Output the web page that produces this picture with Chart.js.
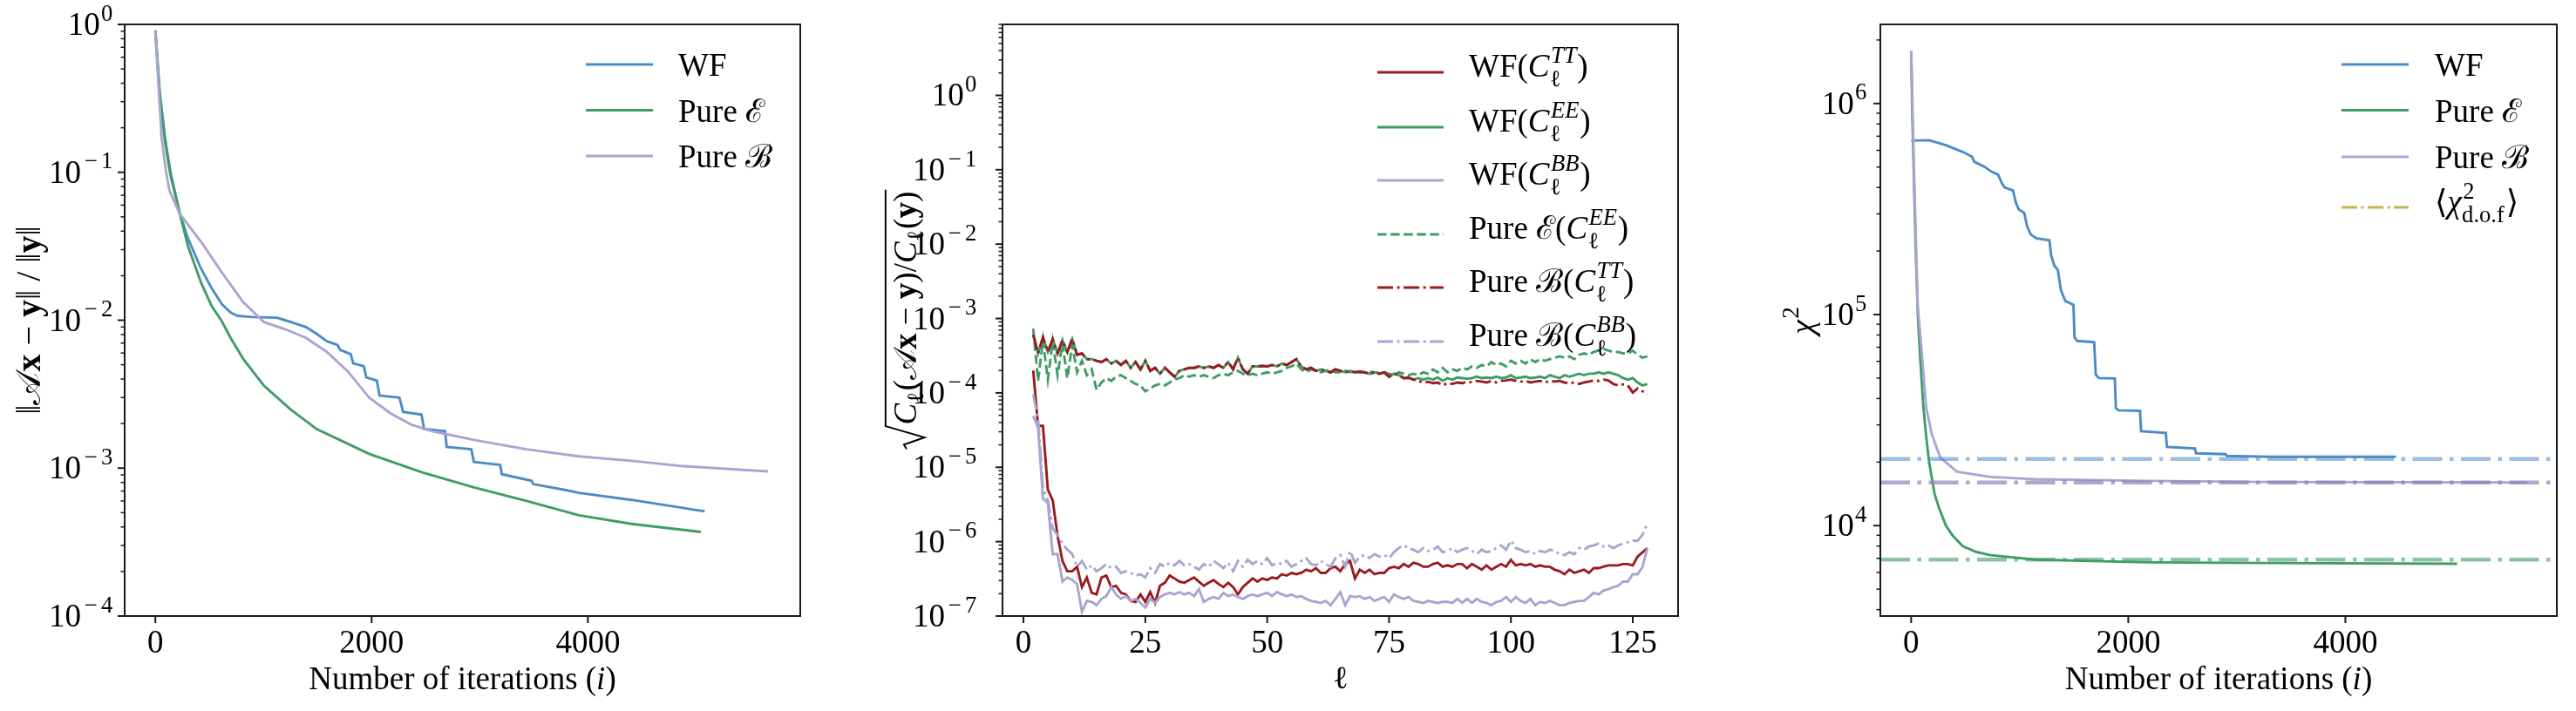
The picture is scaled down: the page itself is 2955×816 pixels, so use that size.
<!DOCTYPE html>
<html>
<head>
<meta charset="utf-8">
<script src="https://cdn.jsdelivr.net/npm/chart.js@4.4.1/dist/chart.umd.min.js"></script>
<style>
  html, body { margin: 0; padding: 0; background: #fff; }
  #quadro { position: relative; width: 2955px; height: 816px; overflow: hidden; }
  canvas { position: absolute; top: 0; }
</style>
</head>
<body>
<div id="quadro">
  <canvas id="c1" width="990" height="816" style="left:0px"></canvas>
  <canvas id="c2" width="1010" height="816" style="left:990px"></canvas>
  <canvas id="c3" width="955" height="816" style="left:2000px"></canvas>
</div>
<script>
// ---------- Painel 1: resíduo relativo vs. iterações ----------
const it1WF = [0, 40, 90, 140, 228, 300, 420, 520, 616, 700, 762, 900, 1126, 1200, 1296, 1393, 1490, 1587, 1684, 1709,
  1806, 1830, 1927, 1951, 2048, 2073, 2257, 2291, 2461, 2485, 2679, 2694, 2922, 2946, 3189, 3204, 3480, 3495, 3796, 3917, 4403, 5080];
const res1WF = [0.91, 0.35, 0.17, 0.10, 0.052, 0.036, 0.0225, 0.0165, 0.0128, 0.0112, 0.0107, 0.0105, 0.0104, 0.0100, 0.0095, 0.0090, 0.0081, 0.0072, 0.0068, 0.0063,
  0.0059, 0.0051, 0.0049, 0.0041, 0.0039, 0.0031, 0.0030, 0.0024, 0.0023, 0.00184, 0.00178, 0.00139, 0.00134, 0.0011, 0.00105, 0.00091, 0.00082, 0.00078, 0.00071, 0.00068, 0.00061, 0.00051];
const it1E = [0, 40, 90, 140, 228, 300, 422, 520, 616, 700, 811, 1005, 1248, 1490, 1976, 2461, 2946, 3432, 3917, 4403, 5045];
const res1E = [0.91, 0.33, 0.16, 0.095, 0.052, 0.032, 0.018, 0.0125, 0.0098, 0.0075, 0.0055, 0.0036, 0.0025, 0.00184, 0.00125, 0.00094, 0.00074, 0.00060, 0.00048, 0.00042, 0.00037];
const it1B = [0, 58, 100, 131, 228, 422, 616, 811, 1005, 1199, 1393, 1587, 1781, 1976, 2170, 2364, 2558, 2946, 3432, 3917, 4403, 4888, 5665];
const res1B = [0.91, 0.17, 0.10, 0.075, 0.052, 0.034, 0.021, 0.0133, 0.0097, 0.0087, 0.0076, 0.0061, 0.0045, 0.0030, 0.00236, 0.00197, 0.00178, 0.00155, 0.00134, 0.0012, 0.00112, 0.00103, 0.00095];
const limX1 = [-284, 5964];
const limY1 = [1e-4, 1];
const ticksX1 = [0, 2000, 4000];
const expY1 = [0, -1, -2, -3, -4];

// ---------- Painel 2: espectro do resíduo por multipolo ----------
const ell = Array.from({ length: 127 }, (_, i) => i + 2);
const wfTT = [
  2.0e-4, 3.6e-5, 3.6e-5, 5.0e-6, 3.6e-6, 1.2e-6, 5.5e-7, 4.0e-7, 4.0e-7, 4.6e-7,
  2.45e-7, 3.3e-7, 2.05e-7, 1.95e-7, 3.3e-7, 3.5e-7, 2.45e-7, 2.55e-7, 2.05e-7, 1.95e-7,
  1.6e-7, 1.55e-7, 1.95e-7, 1.55e-7, 2.1e-7, 1.5e-7, 2.55e-7, 2.8e-7, 3.5e-7, 3.2e-7,
  2.9e-7, 2.8e-7, 3.05e-7, 3.3e-7, 2.9e-7, 2.55e-7, 2.8e-7, 3.05e-7, 2.7e-7, 2.45e-7,
  2.8e-7, 2.45e-7, 1.95e-7, 2.45e-7, 2.8e-7, 3.2e-7, 2.9e-7, 3.2e-7, 3.05e-7, 3.3e-7,
  3.2e-7, 3.65e-7, 3.5e-7, 3.8e-7, 3.65e-7, 3.8e-7, 4.2e-7, 4.0e-7, 4.4e-7, 3.8e-7,
  3.8e-7, 4.4e-7, 4.6e-7, 4.0e-7, 5.0e-7, 5.5e-7, 3.2e-7, 4.2e-7, 3.8e-7, 4.2e-7,
  3.65e-7, 3.8e-7, 3.8e-7, 4.4e-7, 4.6e-7, 4.4e-7, 5.0e-7, 4.6e-7, 5.2e-7, 5.0e-7,
  4.6e-7, 4.6e-7, 5.0e-7, 5.2e-7, 4.6e-7, 4.8e-7, 4.6e-7, 5.0e-7, 5.0e-7, 4.4e-7,
  5.0e-7, 4.6e-7, 4.2e-7, 4.8e-7, 4.2e-7, 4.6e-7, 5.0e-7, 4.6e-7, 5.7e-7, 4.8e-7,
  5.0e-7, 4.8e-7, 5.0e-7, 4.6e-7, 4.8e-7, 4.6e-7, 4.6e-7, 4.2e-7, 4.0e-7, 3.65e-7,
  4.2e-7, 3.8e-7, 4.0e-7, 4.2e-7, 3.8e-7, 4.4e-7, 4.4e-7, 4.6e-7, 4.8e-7, 4.8e-7,
  4.8e-7, 5.0e-7, 5.0e-7, 4.8e-7, 6.3e-7, 7.2e-7, 8.2e-7];
const wfEE = [
  6.1e-4, 3.4e-4, 5.6e-4, 3.55e-4, 5.3e-4, 3.4e-4, 5.1e-4, 3.55e-4, 5.3e-4, 3.25e-4,
  3.4e-4, 2.84e-4, 2.84e-4, 2.7e-4, 2.6e-4, 2.84e-4, 2.48e-4, 2.7e-4, 2.37e-4, 2.7e-4,
  2.17e-4, 2.6e-4, 2.07e-4, 2.7e-4, 1.98e-4, 2.17e-4, 1.81e-4, 2.17e-4, 1.89e-4, 1.65e-4,
  1.98e-4, 2.07e-4, 2.17e-4, 2.17e-4, 2.27e-4, 2.17e-4, 2.27e-4, 2.17e-4, 2.37e-4, 2.17e-4,
  2.6e-4, 2.07e-4, 2.97e-4, 2.07e-4, 1.81e-4, 2.27e-4, 2.27e-4, 2.3e-4, 2.27e-4, 2.37e-4,
  2.27e-4, 2.48e-4, 2.37e-4, 2.6e-4, 2.84e-4, 2.27e-4, 2.07e-4, 2.17e-4, 1.98e-4, 2.07e-4,
  1.98e-4, 1.89e-4, 2.07e-4, 1.98e-4, 1.89e-4, 1.98e-4, 1.89e-4, 1.93e-4, 1.89e-4, 1.81e-4,
  1.89e-4, 1.81e-4, 1.89e-4, 1.65e-4, 1.81e-4, 1.73e-4, 1.58e-4, 1.6e-4, 1.51e-4, 1.58e-4,
  1.51e-4, 1.58e-4, 1.51e-4, 1.61e-4, 1.45e-4, 1.58e-4, 1.51e-4, 1.61e-4, 1.58e-4, 1.55e-4,
  1.58e-4, 1.65e-4, 1.58e-4, 1.61e-4, 1.58e-4, 1.65e-4, 1.58e-4, 1.61e-4, 1.73e-4, 1.58e-4,
  1.61e-4, 1.65e-4, 1.58e-4, 1.61e-4, 1.65e-4, 1.58e-4, 1.73e-4, 1.65e-4, 1.58e-4, 1.73e-4,
  1.65e-4, 1.73e-4, 1.81e-4, 1.73e-4, 1.81e-4, 1.81e-4, 1.89e-4, 1.81e-4, 1.89e-4, 1.81e-4,
  1.73e-4, 1.58e-4, 1.51e-4, 1.58e-4, 1.38e-4, 1.26e-4, 1.32e-4];
const wfBB = [
  4.9e-5, 3.4e-5, 3.8e-6, 3.3e-6, 6.8e-7, 6.8e-7, 2.9e-7, 3.3e-7, 3.05e-7, 2.7e-7,
  1.14e-7, 1.6e-7, 1.55e-7, 1.4e-7, 1.7e-7, 1.85e-7, 2.45e-7, 1.95e-7, 1.7e-7, 1.85e-7,
  1.6e-7, 1.7e-7, 1.5e-7, 1.3e-7, 1.7e-7, 1.5e-7, 1.8e-7, 1.95e-7, 2.05e-7, 1.95e-7,
  2.1e-7, 1.95e-7, 2.05e-7, 1.85e-7, 2.3e-7, 1.55e-7, 1.7e-7, 1.8e-7, 1.7e-7, 2.05e-7,
  1.85e-7, 1.95e-7, 1.8e-7, 1.7e-7, 1.85e-7, 1.95e-7, 1.85e-7, 1.95e-7, 2.05e-7, 1.85e-7,
  2.1e-7, 1.95e-7, 1.85e-7, 1.95e-7, 1.8e-7, 1.85e-7, 1.7e-7, 1.6e-7, 1.55e-7, 1.5e-7,
  1.6e-7, 1.4e-7, 1.7e-7, 2.1e-7, 1.4e-7, 1.85e-7, 1.8e-7, 1.85e-7, 1.7e-7, 1.8e-7,
  1.6e-7, 1.7e-7, 1.8e-7, 1.55e-7, 1.95e-7, 1.8e-7, 1.7e-7, 1.8e-7, 1.6e-7, 1.55e-7,
  1.5e-7, 1.6e-7, 1.55e-7, 1.5e-7, 1.55e-7, 1.55e-7, 1.5e-7, 1.7e-7, 1.5e-7, 1.7e-7,
  1.5e-7, 1.7e-7, 1.55e-7, 1.5e-7, 1.4e-7, 1.55e-7, 1.6e-7, 1.8e-7, 1.55e-7, 1.8e-7,
  1.6e-7, 1.5e-7, 1.7e-7, 1.4e-7, 1.55e-7, 1.5e-7, 1.6e-7, 1.5e-7, 1.4e-7, 1.4e-7,
  1.5e-7, 1.55e-7, 1.6e-7, 1.6e-7, 1.8e-7, 2.05e-7, 1.95e-7, 2.2e-7, 2.3e-7, 2.45e-7,
  2.55e-7, 2.9e-7, 2.9e-7, 3.65e-7, 3.65e-7, 4.6e-7, 8.2e-7];
const pureE_EE = [
  7.3e-4, 1.45e-4, 5.1e-4, 1.51e-4, 4.9e-4, 1.73e-4, 4.65e-4, 1.58e-4, 4.45e-4, 1.89e-4,
  2.7e-4, 1.73e-4, 2.07e-4, 1.1e-4, 1.38e-4, 1.58e-4, 1.45e-4, 1.65e-4, 1.73e-4, 1.58e-4,
  1.45e-4, 1.32e-4, 1.26e-4, 1.05e-4, 1.15e-4, 1.26e-4, 1.32e-4, 1.26e-4, 1.38e-4, 1.51e-4,
  1.58e-4, 1.73e-4, 1.65e-4, 1.73e-4, 1.65e-4, 1.73e-4, 1.65e-4, 1.58e-4, 1.73e-4, 1.81e-4,
  1.73e-4, 1.89e-4, 1.98e-4, 1.81e-4, 1.73e-4, 1.81e-4, 1.73e-4, 1.81e-4, 1.89e-4, 1.81e-4,
  1.89e-4, 1.98e-4, 2.17e-4, 2.27e-4, 2.48e-4, 2.07e-4, 1.89e-4, 2.07e-4, 1.98e-4, 1.89e-4,
  1.98e-4, 2.07e-4, 1.89e-4, 1.89e-4, 1.98e-4, 1.89e-4, 1.98e-4, 1.89e-4, 1.89e-4, 1.93e-4,
  1.89e-4, 1.86e-4, 1.89e-4, 1.81e-4, 1.73e-4, 1.89e-4, 1.81e-4, 1.73e-4, 1.81e-4, 1.73e-4,
  1.89e-4, 1.81e-4, 2.07e-4, 1.89e-4, 2.17e-4, 1.89e-4, 2.07e-4, 1.98e-4, 2.17e-4, 2.07e-4,
  2.27e-4, 2.17e-4, 2.37e-4, 2.27e-4, 2.6e-4, 2.37e-4, 2.48e-4, 2.27e-4, 2.7e-4, 2.48e-4,
  2.7e-4, 2.48e-4, 2.84e-4, 2.6e-4, 2.84e-4, 2.7e-4, 2.84e-4, 2.97e-4, 3.1e-4, 2.97e-4,
  3.1e-4, 2.84e-4, 3.25e-4, 3.4e-4, 3.25e-4, 3.55e-4, 3.7e-4, 3.9e-4, 3.7e-4, 3.55e-4,
  3.55e-4, 3.4e-4, 3.4e-4, 3.7e-4, 3.25e-4, 2.97e-4, 3.1e-4];
const pureB_TT = [
  6.1e-4, 3.4e-4, 5.6e-4, 3.55e-4, 5.3e-4, 3.4e-4, 5.1e-4, 3.55e-4, 5.3e-4, 3.25e-4,
  3.4e-4, 2.84e-4, 2.84e-4, 2.7e-4, 2.6e-4, 2.84e-4, 2.48e-4, 2.7e-4, 2.37e-4, 2.7e-4,
  2.17e-4, 2.6e-4, 2.07e-4, 2.7e-4, 1.98e-4, 2.17e-4, 1.81e-4, 2.17e-4, 1.89e-4, 1.65e-4,
  1.98e-4, 2.07e-4, 2.17e-4, 2.17e-4, 2.27e-4, 2.17e-4, 2.27e-4, 2.17e-4, 2.37e-4, 2.17e-4,
  2.6e-4, 2.07e-4, 2.97e-4, 2.07e-4, 1.81e-4, 2.27e-4, 2.27e-4, 2.3e-4, 2.27e-4, 2.37e-4,
  2.27e-4, 2.48e-4, 2.37e-4, 2.6e-4, 2.84e-4, 2.27e-4, 2.07e-4, 2.17e-4, 1.98e-4, 2.07e-4,
  1.98e-4, 1.89e-4, 2.07e-4, 1.98e-4, 1.89e-4, 1.98e-4, 1.89e-4, 1.93e-4, 1.89e-4, 1.81e-4,
  1.89e-4, 1.81e-4, 1.89e-4, 1.65e-4, 1.81e-4, 1.73e-4, 1.58e-4, 1.6e-4, 1.51e-4, 1.45e-4,
  1.38e-4, 1.41e-4, 1.35e-4, 1.38e-4, 1.26e-4, 1.35e-4, 1.32e-4, 1.38e-4, 1.35e-4, 1.42e-4,
  1.38e-4, 1.45e-4, 1.42e-4, 1.38e-4, 1.45e-4, 1.38e-4, 1.45e-4, 1.47e-4, 1.51e-4, 1.45e-4,
  1.42e-4, 1.45e-4, 1.38e-4, 1.42e-4, 1.45e-4, 1.38e-4, 1.45e-4, 1.42e-4, 1.45e-4, 1.38e-4,
  1.35e-4, 1.38e-4, 1.32e-4, 1.38e-4, 1.42e-4, 1.47e-4, 1.45e-4, 1.51e-4, 1.47e-4, 1.32e-4,
  1.26e-4, 1.3e-4, 1.26e-4, 1.01e-4, 1.15e-4, 1.05e-4, 9.6e-5];
const pureB_BB = [
  9.6e-5, 4.5e-5, 5.2e-6, 3.6e-6, 1.5e-6, 1.23e-6, 9.4e-7, 7.8e-7, 6.8e-7, 4.6e-7,
  5.5e-7, 4.2e-7, 4.8e-7, 4.0e-7, 4.4e-7, 5.0e-7, 4.4e-7, 4.6e-7, 3.8e-7, 4.0e-7,
  3.8e-7, 3.5e-7, 3.65e-7, 3.3e-7, 4.4e-7, 3.8e-7, 5.0e-7, 4.6e-7, 5.2e-7, 4.8e-7,
  5.5e-7, 4.8e-7, 5.0e-7, 4.6e-7, 4.2e-7, 5.0e-7, 4.6e-7, 5.5e-7, 5.0e-7, 4.4e-7,
  5.2e-7, 4.0e-7, 5.5e-7, 4.6e-7, 5.7e-7, 5.0e-7, 5.5e-7, 5.0e-7, 6.0e-7, 4.8e-7,
  5.2e-7, 5.0e-7, 5.5e-7, 4.6e-7, 5.0e-7, 5.5e-7, 6.0e-7, 5.0e-7, 4.8e-7, 5.5e-7,
  5.0e-7, 4.6e-7, 6.0e-7, 6.6e-7, 4.6e-7, 7.5e-7, 5.2e-7, 6.3e-7, 6.6e-7, 6.0e-7,
  6.8e-7, 6.3e-7, 6.6e-7, 6.0e-7, 7.2e-7, 8.2e-7, 8.9e-7, 8.2e-7, 7.8e-7, 7.2e-7,
  8.2e-7, 7.5e-7, 7.8e-7, 8.6e-7, 7.2e-7, 7.5e-7, 8.2e-7, 7.2e-7, 7.8e-7, 8.2e-7,
  7.5e-7, 6.8e-7, 7.8e-7, 7.2e-7, 7.5e-7, 8.2e-7, 8.9e-7, 7.8e-7, 1.03e-6, 8.2e-7,
  7.8e-7, 7.2e-7, 7.5e-7, 6.8e-7, 7.5e-7, 7.2e-7, 7.8e-7, 7.5e-7, 6.8e-7, 6.6e-7,
  7.2e-7, 6.8e-7, 8.2e-7, 7.8e-7, 8.6e-7, 8.9e-7, 9.4e-7, 8.6e-7, 8.9e-7, 8.2e-7,
  8.9e-7, 9.4e-7, 9.8e-7, 1.03e-6, 1.03e-6, 1.23e-6, 1.78e-6];
const limX2 = [-4.3, 134.3];
const limY2 = [1e-7, 9];
const ticksX2 = [0, 25, 50, 75, 100, 125];
const expY2 = [0, -1, -2, -3, -4, -5, -6, -7];

// ---------- Painel 3: chi quadrado vs. iterações ----------
const it3WF = [0, 165, 320, 474, 560, 580, 680, 740, 800, 835, 860, 938, 964, 990, 1041, 1070, 1100, 1150, 1273, 1290,
  1320, 1351, 1380, 1420, 1495, 1505, 1530, 1686, 1700, 1730, 1876, 1886, 1910, 2108, 2118, 2346, 2356, 2614, 2624, 2897,
  2907, 3300, 4465];
const chi3WF = [6.67e5, 6.7e5, 6.35e5, 5.9e5, 5.6e5, 5.3e5, 5.0e5, 4.75e5, 4.6e5, 4.2e5, 4.0e5, 3.87e5, 3.4e5, 3.15e5, 3.03e5, 2.6e5, 2.4e5, 2.3e5, 2.25e5, 1.9e5,
  1.7e5, 1.63e5, 1.3e5, 1.16e5, 1.11e5, 7.8e4, 7.5e4, 7.4e4, 5.2e4, 5.0e4, 4.98e4, 3.6e4, 3.52e4, 3.5e4, 2.8e4, 2.75e4, 2.36e4, 2.32e4, 2.2e4, 2.18e4,
  2.14e4, 2.12e4, 2.12e4];
const it3E = [0, 10, 26, 40, 62, 85, 113, 140, 165, 216, 260, 320, 380, 474, 600, 732, 1144, 2175, 3206, 5030];
const chi3E = [1.77e6, 9.0e5, 4.3e5, 2.2e5, 9.8e4, 6.0e4, 3.6e4, 2.6e4, 2.0e4, 1.41e4, 1.2e4, 1.0e4, 9.0e3, 8.0e3, 7.5e3, 7.25e3, 6.9e3, 6.7e3, 6.65e3, 6.6e3];
const it3B = [0, 30, 60, 88, 139, 191, 268, 423, 732, 1144, 2175, 3206, 5673];
const chi3B = [1.77e6, 4.0e5, 1.1e5, 7.6e4, 3.6e4, 2.7e4, 2.1e4, 1.8e4, 1.7e4, 1.66e4, 1.63e4, 1.61e4, 1.6e4];
const chiDof = { WF: 2.07e4, B: 1.6e4, E: 6.9e3 };
const limX3 = [-284, 5948];
const limY3 = [3730, 2.37e6];
const ticksX3 = [0, 2000, 4000];
const expY3 = [4, 5, 6];

// ---------- Estilo ----------
const AZUL = '#4b8bc6';
const VERDE = '#3f9c66';
const LILAS = '#aaa4d0';
const VERMELHO = '#9a1b1f';
const OLIVA = '#c3b34d';
const TAM = 37;
const FAMILIA = '"Liberation Serif", "DejaVu Serif", serif';
const LW = 2.9;
const TRACO = [10.5, 4.6];
const TRACO_PONTO = [18, 4.6, 2.9, 4.6];
const MENOS = '\u2212';

// pedaços de texto "matemático"
const rm = t => ({ t });
const it = t => ({ t, it: true });
const bf = t => ({ t, bf: true });
const sup = (t, i) => ({ sup: t, it: !!i });
const sub = (t, i) => ({ sub: t, it: !!i });
const pilha = (s, b, sIt) => ({ stack: { sup: s, sub: b, supIt: !!sIt } });

function fonte(tam, p) {
  return (p && p.it ? 'italic ' : '') + (p && p.bf ? 'bold ' : '') + tam + 'px ' + FAMILIA;
}

// texto pequeno (expoente): o sinal de menos ganha folga extra, como no TeX
function larguraPequena(ctx, txt) {
  if (txt.startsWith(MENOS)) {
    return ctx.measureText(MENOS).width * 1.45 + ctx.measureText(txt.slice(1)).width;
  }
  return ctx.measureText(txt).width;
}
function escreverPequeno(ctx, txt, x, y) {
  if (txt.startsWith(MENOS)) {
    const wm = ctx.measureText(MENOS).width;
    ctx.fillText(MENOS, x + wm * 0.15, y);
    ctx.fillText(txt.slice(1), x + wm * 1.45, y);
  } else {
    ctx.fillText(txt, x, y);
  }
}

function larguraParte(ctx, p, tam) {
  const peq = tam * 0.72;
  if (p.stack) {
    ctx.font = fonte(peq, { it: p.stack.supIt });
    const a = ctx.measureText(p.stack.sup).width;
    ctx.font = fonte(peq, {});
    const b = ctx.measureText(p.stack.sub).width;
    return Math.max(a, b) + tam * 0.06;
  }
  if (p.sup !== undefined || p.sub !== undefined) {
    ctx.font = fonte(peq, p);
    return larguraPequena(ctx, p.sup !== undefined ? p.sup : p.sub) + tam * 0.05;
  }
  ctx.font = fonte(tam, p);
  return ctx.measureText(p.t).width;
}

function larguraRica(ctx, partes, tam) {
  return partes.reduce((s, p) => s + larguraParte(ctx, p, tam), 0);
}

function desenharRico(ctx, partes, x, y, tam) {
  const peq = tam * 0.72;
  let cx = x;
  ctx.textAlign = 'left';
  ctx.textBaseline = 'alphabetic';
  partes.forEach(p => {
    const w = larguraParte(ctx, p, tam);
    if (p.stack) {
      ctx.font = fonte(peq, { it: p.stack.supIt });
      ctx.fillText(p.stack.sup, cx + tam * 0.04, y - tam * 0.44);
      ctx.font = fonte(peq, {});
      ctx.fillText(p.stack.sub, cx + tam * 0.01, y + tam * 0.3);
    } else if (p.sup !== undefined) {
      ctx.font = fonte(peq, p);
      escreverPequeno(ctx, p.sup, cx + tam * 0.03, y - tam * 0.44);
    } else if (p.sub !== undefined) {
      ctx.font = fonte(peq, p);
      escreverPequeno(ctx, p.sub, cx + tam * 0.02, y + tam * 0.22);
    } else {
      ctx.font = fonte(tam, p);
      ctx.fillText(p.t, cx, y);
    }
    cx += w;
  });
  return cx - x;
}

function pares(xs, ys) {
  return xs.map((x, i) => ({ x, y: ys[i] }));
}

function rotuloExp(e) {
  return e < 0 ? MENOS + (-e) : String(e);
}

// decoração de cada painel (posições do texto e da legenda, em px do canvas)
const decoracoes = {
  c1: {
    ticksX: ticksX1, expY: expY1, folgaY: 13,
    tituloX: [rm('Number of iterations ('), it('i'), rm(')')], baseTituloX: 791,
    tituloY: [rm('\u2016'), rm('\ud835\udc9c'), bf('x'), rm(' \u2212 '), bf('y'), rm('\u2016 / \u2016'), bf('y'), rm('\u2016')],
    baseTituloY: 46, tamTituloY: 40, raiz: false,
    legenda: { x1: 672, x2: 749, tx: 778, ys: [74, 126.5, 179], dy: [13, 13, 13] }
  },
  c2: {
    ticksX: ticksX2, expY: expY2, folgaY: 29,
    tituloX: [rm('\u2113')], baseTituloX: 790,
    tituloY: [it('C'), sub('\u2113'), rm('('), rm('\ud835\udc9c'), bf('x'), rm(' \u2212 '), bf('y'), rm(')/'), it('C'), sub('\u2113'), rm('('), bf('y'), rm(')')],
    baseTituloY: 61, tamTituloY: TAM, raiz: true,
    legenda: { x1: 590, x2: 666, tx: 695, ys: [83, 146, 207, 269, 330, 392], dy: [5, 5, 5, 5, 5, 5] }
  },
  c3: {
    ticksX: ticksX3, expY: expY3, folgaY: 15,
    tituloX: [rm('Number of iterations ('), it('i'), rm(')')], baseTituloX: 791,
    tituloY: [it('\u03c7'), sup('2')], baseTituloY: 80, tamTituloY: 38, raiz: false,
    legenda: { x1: 686, x2: 763, tx: 793, ys: [74, 126.5, 180, 238], dy: [13, 13, 13, 6] }
  }
};

// Plugin que imita o visual do matplotlib: moldura, ticks, rótulos, títulos e legenda
const eixosMpl = {
  id: 'eixosMpl',
  afterDatasetsDraw(chart) {
    const d = decoracoes[chart.canvas.id];
    if (!d) return;
    const { ctx, chartArea: a } = chart;
    const sx = chart.scales.x, sy = chart.scales.y;
    ctx.save();
    ctx.fillStyle = '#000';
    ctx.strokeStyle = '#1a1a1a';
    ctx.setLineDash([]);

    // moldura
    ctx.lineWidth = 2;
    ctx.strokeRect(a.left, a.top, a.right - a.left, a.bottom - a.top);

    // ticks e rótulos do eixo x
    d.ticksX.forEach(v => {
      const px = sx.getPixelForValue(v);
      ctx.lineWidth = 2;
      ctx.beginPath(); ctx.moveTo(px, a.bottom); ctx.lineTo(px, a.bottom + 8); ctx.stroke();
      ctx.font = fonte(TAM, {});
      ctx.textAlign = 'center';
      ctx.textBaseline = 'alphabetic';
      ctx.fillText(String(v), px, 749);
    });

    // ticks menores do eixo y (log)
    const eMin = Math.floor(Math.log10(sy.min)), eMax = Math.ceil(Math.log10(sy.max));
    ctx.lineWidth = 1.5;
    for (let e = eMin; e <= eMax; e++) {
      for (let m = 2; m <= 9; m++) {
        const v = m * Math.pow(10, e);
        if (v < sy.min || v > sy.max) continue;
        const py = sy.getPixelForValue(v);
        ctx.beginPath(); ctx.moveTo(a.left - 4.5, py); ctx.lineTo(a.left, py); ctx.stroke();
      }
    }
    // ticks maiores e rótulos 10^n
    d.expY.forEach(e => {
      const py = sy.getPixelForValue(Math.pow(10, e));
      ctx.lineWidth = 2;
      ctx.beginPath(); ctx.moveTo(a.left - 8, py); ctx.lineTo(a.left, py); ctx.stroke();
      const partes = [rm('10'), sup(rotuloExp(e))];
      const w = larguraRica(ctx, partes, TAM);
      desenharRico(ctx, partes, a.left - d.folgaY - w, py + 12, TAM);
    });

    // título do eixo x
    const wx = larguraRica(ctx, d.tituloX, TAM);
    desenharRico(ctx, d.tituloX, (a.left + a.right) / 2 - wx / 2, d.baseTituloX, TAM);

    // título do eixo y (girado)
    const ty = d.tamTituloY;
    const wy = larguraRica(ctx, d.tituloY, ty);
    const r = d.raiz ? ty * 0.75 : 0;
    ctx.save();
    ctx.translate(d.baseTituloY, (a.top + a.bottom) / 2);
    ctx.rotate(-Math.PI / 2);
    const x0 = -(wy + r) / 2;
    desenharRico(ctx, d.tituloY, x0 + r, 0, ty);
    if (d.raiz) {
      ctx.lineWidth = 2;
      ctx.strokeStyle = '#000';
      ctx.beginPath();
      ctx.moveTo(x0, -0.30 * ty);
      ctx.lineTo(x0 + 0.14 * ty, -0.38 * ty);
      ctx.lineTo(x0 + 0.36 * ty, 0.26 * ty);
      ctx.lineTo(x0 + r - 0.04 * ty, -0.95 * ty);
      ctx.lineTo(x0 + r + wy + 0.05 * ty, -0.95 * ty);
      ctx.stroke();
    }
    ctx.restore();

    // legenda (sem moldura, como no original)
    const L = d.legenda;
    let k = 0;
    chart.data.datasets.forEach(ds => {
      if (!ds.legenda) return;
      const y = L.ys[k];
      ctx.save();
      ctx.strokeStyle = ds.borderColor;
      ctx.lineWidth = LW;
      ctx.setLineDash(ds.borderDash || []);
      ctx.beginPath(); ctx.moveTo(L.x1, y); ctx.lineTo(L.x2, y); ctx.stroke();
      ctx.restore();
      ctx.fillStyle = '#000';
      desenharRico(ctx, ds.legenda, L.tx, y + L.dy[k], TAM);
      k++;
    });
    ctx.restore();
  }
};
Chart.register(eixosMpl);

function opcoes(limX, limY, larguraY, padDireita) {
  return {
    responsive: false,
    animation: false,
    devicePixelRatio: 1,
    events: [],
    layout: { padding: { left: 0, right: padDireita, top: 28, bottom: 0 } },
    plugins: { legend: { display: false }, tooltip: { enabled: false } },
    elements: { point: { radius: 0 }, line: { tension: 0, borderWidth: LW, fill: false } },
    scales: {
      x: {
        type: 'linear', min: limX[0], max: limX[1],
        grid: { display: false }, ticks: { display: false }, border: { display: false },
        afterFit: s => { s.height = 816 - 707; }
      },
      y: {
        type: 'logarithmic', min: limY[0], max: limY[1],
        grid: { display: false }, ticks: { display: false }, border: { display: false },
        afterFit: s => { s.width = larguraY; }
      }
    }
  };
}

// Painel 1
new Chart(document.getElementById('c1'), {
  type: 'line',
  data: {
    datasets: [
      { legenda: [rm('WF')], data: pares(it1WF, res1WF), borderColor: AZUL, order: 3 },
      { legenda: [rm('Pure '), rm('\u2130')], data: pares(it1E, res1E), borderColor: VERDE, order: 2 },
      { legenda: [rm('Pure '), rm('\u212c')], data: pares(it1B, res1B), borderColor: LILAS, order: 1 }
    ]
  },
  options: opcoes(limX1, limY1, 143, 990 - 918)
});

// Painel 2
const C = pilha;
new Chart(document.getElementById('c2'), {
  type: 'line',
  data: {
    datasets: [
      { legenda: [rm('WF('), it('C'), C('TT', '\u2113', true), rm(')')], data: pares(ell, wfTT), borderColor: VERMELHO, order: 6 },
      { legenda: [rm('WF('), it('C'), C('EE', '\u2113', true), rm(')')], data: pares(ell, wfEE), borderColor: VERDE, order: 5 },
      { legenda: [rm('WF('), it('C'), C('BB', '\u2113', true), rm(')')], data: pares(ell, wfBB), borderColor: LILAS, order: 4 },
      { legenda: [rm('Pure '), rm('\u2130'), rm('('), it('C'), C('EE', '\u2113', true), rm(')')], data: pares(ell, pureE_EE), borderColor: VERDE, borderDash: TRACO, order: 3 },
      { legenda: [rm('Pure '), rm('\u212c'), rm('('), it('C'), C('TT', '\u2113', true), rm(')')], data: pares(ell, pureB_TT), borderColor: VERMELHO, borderDash: TRACO_PONTO, order: 2 },
      { legenda: [rm('Pure '), rm('\u212c'), rm('('), it('C'), C('BB', '\u2113', true), rm(')')], data: pares(ell, pureB_BB), borderColor: LILAS, borderDash: TRACO_PONTO, order: 1 }
    ]
  },
  options: opcoes(limX2, limY2, 1150 - 990, 1010 - 935)
});

// Painel 3
const HTRACO = [34, 8.5, 4.5, 8.5];
new Chart(document.getElementById('c3'), {
  type: 'line',
  data: {
    datasets: [
      { legenda: [rm('WF')], data: pares(it3WF, chi3WF), borderColor: AZUL, order: 8 },
      { legenda: [rm('Pure '), rm('\u2130')], data: pares(it3E, chi3E), borderColor: VERDE, order: 7 },
      { legenda: [rm('Pure '), rm('\u212c')], data: pares(it3B, chi3B), borderColor: LILAS, order: 6 },
      { legenda: [rm('\u27e8'), it('\u03c7'), pilha('2', 'd.o.f'), rm('\u27e9')], data: [], borderColor: OLIVA, borderDash: TRACO_PONTO, order: 5 },
      { data: pares(limX3, [chiDof.WF, chiDof.WF]), borderColor: 'rgba(75,139,198,0.55)', borderWidth: 4.5, borderDash: HTRACO, order: 3 },
      { data: pares(limX3, [chiDof.B, chiDof.B]), borderColor: 'rgba(140,130,185,0.7)', borderWidth: 4.5, borderDash: HTRACO, order: 2 },
      { data: pares(limX3, [chiDof.E, chiDof.E]), borderColor: 'rgba(63,156,102,0.6)', borderWidth: 4.5, borderDash: HTRACO, order: 1 }
    ]
  },
  options: opcoes(limX3, limY3, 2157 - 2000, 955 - 933)
});
</script>
</body>
</html>
